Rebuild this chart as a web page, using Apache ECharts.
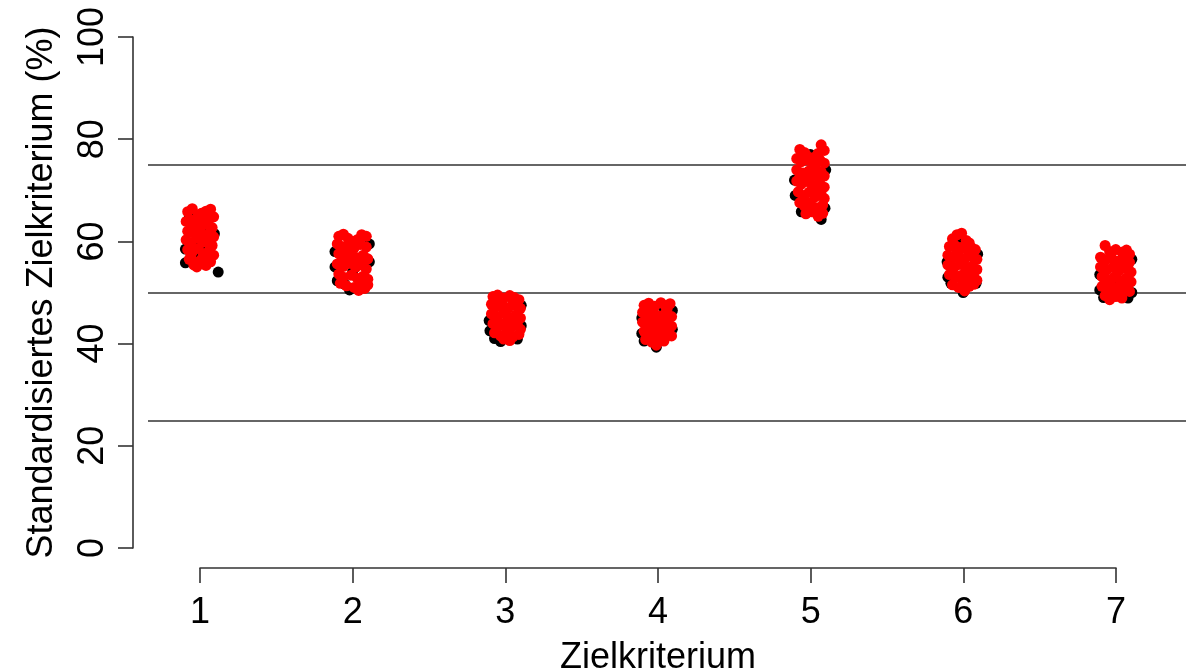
<!DOCTYPE html>
<html>
<head>
<meta charset="utf-8">
<script src="https://cdn.jsdelivr.net/npm/echarts@6/dist/echarts.min.js"></script>
<style>
html,body{margin:0;padding:0;background:#fff;}
#chart{width:1201px;height:672px;}
</style>
</head>
<body>
<div id="chart"></div>
<script>
var categories = ['1', '2', '3', '4', '5', '6', '7'];
var yTicks = [0, 20, 40, 60, 80, 100];
var refLines = [25, 50, 75];
var xTitle = 'Zielkriterium';
var yTitle = 'Standardisiertes Zielkriterium (%)';

var black1 = [[0.905,58.5],[0.905,55.8],[0.93,64.5],[1.095,61.5],[1.12,54.0],[1.0,59.0],[0.97,57.0],[1.05,62.0],[0.96,64.8]];
var red1 = [[0.92,65.8],[0.95,66.4],[0.99,65.2],[1.04,65.9],[1.07,66.3],[1.09,64.8],
  [0.91,63.9],[0.94,64.2],[0.98,63.5],[1.02,64.0],[1.06,63.1],[1.08,62.7],
  [0.92,62.0],[0.96,61.6],[1.00,62.4],[1.03,61.2],[1.07,61.8],[1.09,60.9],
  [0.91,60.3],[0.94,59.7],[0.98,60.6],[1.02,59.9],[1.05,60.2],[1.08,59.2],
  [0.92,58.4],[0.95,57.9],[0.99,58.6],[1.03,57.6],[1.06,58.1],[1.09,57.3],
  [0.93,56.5],[0.96,55.4],[1.00,56.2],[1.04,55.3],[1.07,56.0],[0.98,55.0],[1.02,57.0],[0.97,63.0],[1.01,60.8],
  [0.95,62.8],[1.05,64.6],[0.94,56.9],[1.06,59.5],[1.01,65.5]];

var black2 = [[1.885,58.0],[1.885,55.0],[1.90,52.3],[1.95,51.6],[2.11,59.5],[2.11,56.0],[2.00,54.0],[1.98,50.5]];
var red2 = [[1.91,61.0],[1.94,61.4],[1.97,60.6],[2.03,60.3],[2.06,61.3],[2.09,61.0],
  [1.90,59.5],[1.93,59.0],[1.97,59.2],[2.01,58.7],[2.05,59.4],[2.09,58.9],
  [1.91,57.6],[1.95,57.0],[1.99,57.5],[2.03,56.8],[2.07,57.3],[2.10,56.6],
  [1.90,55.6],[1.94,55.1],[1.98,55.7],[2.02,54.9],[2.06,55.4],[2.09,54.6],
  [1.91,53.6],[1.94,53.0],[1.99,53.4],[2.03,52.8],[2.07,53.2],[2.10,52.6],
  [1.92,51.8],[1.96,51.3],[2.01,51.0],[2.04,50.4],[2.08,50.8],[2.10,51.5],[2.00,56.2],[1.96,58.2],
  [2.04,59.9],[1.93,56.2],[2.05,52.1],[2.00,60.0]];

var black3 = [[2.895,44.5],[2.90,42.5],[2.93,41.0],[2.97,40.4],[3.105,47.5],[3.105,43.5],[3.02,44.5],[3.08,40.9]];
var red3 = [[2.92,49.2],[2.95,49.5],[2.99,48.9],[3.03,49.4],[3.06,49.0],[3.09,48.6],
  [2.91,47.7],[2.94,47.2],[2.98,47.6],[3.02,47.0],[3.06,47.5],[3.10,46.9],
  [2.91,45.8],[2.95,45.3],[2.99,45.9],[3.03,45.1],[3.07,45.6],[3.10,45.0],
  [2.92,43.9],[2.96,43.4],[3.00,44.0],[3.04,43.2],[3.08,43.7],[3.10,42.8],
  [2.93,42.1],[2.97,41.5],[3.01,42.2],[3.05,41.3],[3.09,41.8],[2.99,40.9],[3.03,40.6],[3.00,46.5],[2.96,48.2],
  [3.05,48.3],[2.94,44.6],[3.06,44.4],[3.02,42.9]];

var black4 = [[3.895,45.0],[3.895,42.0],[3.91,40.5],[3.99,39.3],[4.095,46.5],[4.095,42.8],[4.03,47.3],[4.00,43.0]];
var red4 = [[3.91,47.5],[3.94,47.9],[3.98,47.3],[4.02,48.0],[4.05,47.4],[4.08,47.8],
  [3.90,46.1],[3.93,45.6],[3.97,46.0],[4.01,45.4],[4.05,45.9],[4.09,45.3],
  [3.90,44.2],[3.94,43.7],[3.98,44.3],[4.02,43.5],[4.06,44.0],[4.09,43.4],
  [3.91,42.4],[3.95,41.9],[3.99,42.5],[4.03,41.7],[4.07,42.2],[4.09,41.5],
  [3.92,40.8],[3.96,40.3],[4.00,40.9],[4.04,40.5],[3.99,39.7],[4.02,44.8],[3.96,47.0],
  [4.06,46.7],[3.93,42.9],[4.04,43.0],[3.97,44.9]];

var black5 = [[4.895,72.0],[4.90,69.0],[5.00,77.0],[5.07,64.3],[5.095,66.5],[5.10,74.0],[4.94,65.8],[5.01,70.0]];
var red5 = [[4.93,78.0],[4.96,77.4],[5.07,78.9],[5.09,77.8],[5.02,76.4],
  [4.91,76.2],[4.94,75.6],[4.98,75.9],[5.03,74.8],[5.06,76.0],[5.09,75.3],
  [4.91,74.0],[4.95,73.4],[4.99,73.8],[5.03,72.9],[5.07,73.6],[5.09,72.8],
  [4.91,71.8],[4.94,71.2],[4.98,71.7],[5.02,70.8],[5.06,71.4],[5.09,70.6],
  [4.92,69.7],[4.95,69.0],[4.99,69.6],[5.03,68.7],[5.07,69.2],[5.09,68.4],
  [4.93,67.6],[4.96,66.9],[5.00,67.5],[5.04,66.6],[5.08,67.1],
  [4.97,65.4],[5.01,65.8],[5.05,64.9],[5.08,65.5],[5.00,72.5],[4.97,77.0],
  [5.05,77.2],[4.93,72.6],[5.05,70.1],[4.96,68.3],[5.01,74.1]];

var black6 = [[5.895,56.0],[5.90,53.0],[5.92,51.8],[6.00,50.0],[6.085,51.8],[6.095,57.5],[6.04,54.0],[5.98,60.0]];
var red6 = [[5.93,60.5],[5.96,61.3],[5.99,61.6],[6.02,60.2],
  [5.91,59.0],[5.94,59.4],[5.98,58.8],[6.02,58.5],[6.05,58.9],[6.08,58.4],
  [5.90,57.3],[5.93,56.8],[5.97,57.2],[6.01,56.6],[6.05,57.1],[6.09,56.5],
  [5.90,55.4],[5.94,54.9],[5.98,55.5],[6.02,54.7],[6.06,55.2],[6.09,54.5],
  [5.91,53.5],[5.95,52.9],[5.99,53.4],[6.03,52.6],[6.07,53.1],[6.09,52.4],
  [5.93,51.5],[5.97,51.0],[6.01,50.3],[6.04,51.2],[6.07,51.6],[6.00,56.0],[5.96,58.0],
  [6.04,59.7],[5.93,54.1],[6.05,53.9],[6.00,52.0]];

var black7 = [[6.895,53.5],[6.895,50.5],[6.92,49.0],[7.08,48.9],[7.105,50.0],[7.105,56.5],[7.00,51.5],[7.05,57.0]];
var red7 = [[6.93,59.2],[6.96,58.0],[7.00,58.4],[7.04,57.9],[7.07,58.3],[7.09,57.5],
  [6.90,56.9],[6.93,56.3],[6.97,56.7],[7.01,56.1],[7.05,56.6],[7.09,55.9],
  [6.90,55.0],[6.94,54.4],[6.98,54.9],[7.02,54.2],[7.06,54.7],[7.10,54.0],
  [6.91,53.1],[6.95,52.5],[6.99,53.0],[7.03,52.3],[7.07,52.8],[7.10,52.1],
  [6.91,51.2],[6.94,50.6],[6.98,51.1],[7.02,50.4],[7.06,50.9],[7.09,50.2],
  [6.93,49.4],[6.96,48.6],[7.00,49.2],[7.04,48.9],[7.01,55.5],[6.97,57.6],
  [7.05,55.3],[6.93,51.9],[7.04,51.6],[6.99,49.9]];

var blackAll = [].concat(black1, black2, black3, black4, black5, black6, black7);
var redAll = [].concat(red1, red2, red3, red4, red5, red6, red7);

var FONT = "'Liberation Sans', Arial, sans-serif";
var LINE = '#333';
var FS = 36;

var chart = echarts.init(document.getElementById('chart'), null, {renderer: 'canvas'});
chart.setOption({
  animation: false,
  backgroundColor: '#ffffff',
  grid: [
    {left: 148, right: 15, top: 37, bottom: 124, containLabel: false, outerBoundsMode: 'none'},
    {left: 200, right: 85, top: 37, bottom: 124, containLabel: false, outerBoundsMode: 'none'}
  ],
  xAxis: [
    {gridIndex: 0, type: 'value', min: 0.66, max: 7.46, show: false},
    {gridIndex: 1, type: 'value', min: 1, max: 7, interval: 1, offset: 20,
     axisLine: {show: true, onZero: false, lineStyle: {color: LINE, width: 1.6}},
     axisTick: {show: true, length: 15, lineStyle: {color: LINE, width: 1.6}},
     splitLine: {show: false},
     axisLabel: {color: '#000', fontSize: FS, fontFamily: FONT, margin: 27,
       formatter: function (v) { return categories[Math.round(v) - 1]; }},
     name: xTitle, nameLocation: 'middle', nameGap: 72,
     nameTextStyle: {color: '#000', fontSize: FS, fontFamily: FONT}}
  ],
  yAxis: [
    {gridIndex: 0, type: 'value', min: yTicks[0], max: yTicks[yTicks.length - 1], interval: 20, offset: 15,
     axisLine: {show: true, onZero: false, lineStyle: {color: LINE, width: 1.6}},
     axisTick: {show: true, length: 15, lineStyle: {color: LINE, width: 1.6}},
     splitLine: {show: false},
     axisLabel: {color: '#000', fontSize: FS, fontFamily: FONT, rotate: 90, margin: 22},
     name: yTitle, nameLocation: 'middle', nameGap: 73, nameRotate: 90,
     nameTextStyle: {color: '#000', fontSize: FS, fontFamily: FONT}},
    {gridIndex: 1, type: 'value', min: 0, max: 100, show: false}
  ],
  series: [
    {type: 'scatter', xAxisIndex: 0, yAxisIndex: 0, data: blackAll, symbol: 'circle', symbolSize: 11,
     itemStyle: {color: '#000', opacity: 1}, silent: true, z: 3,
     markLine: {silent: true, symbol: 'none', label: {show: false}, z: 1,
       lineStyle: {color: LINE, width: 1.6, type: 'solid'},
       data: refLines.map(function (v) { return {yAxis: v}; })}},
    {type: 'scatter', xAxisIndex: 0, yAxisIndex: 0, data: redAll, symbol: 'circle', symbolSize: 11,
     itemStyle: {color: '#ff0000', opacity: 1}, silent: true, z: 4},
    {type: 'scatter', xAxisIndex: 1, yAxisIndex: 1, data: []}
  ]
});
</script>
</body>
</html>
